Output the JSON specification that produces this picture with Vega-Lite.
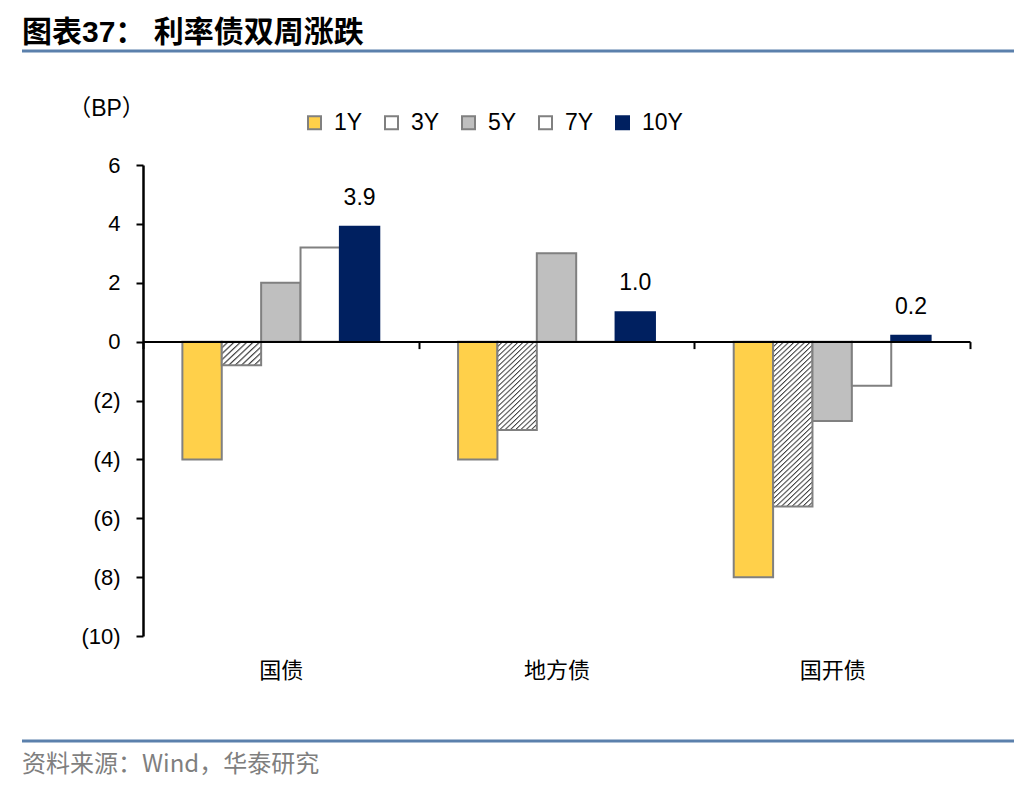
{
  "$schema": "https://vega.github.io/schema/vega-lite/v6.json",
  "width": 827,
  "height": 471,
  "autosize": {"type": "none"},
  "padding": {"left": 143, "top": 165, "right": 66, "bottom": 156},
  "background": "white",
  "config": {
    "view": {"stroke": null},
    "font": "Liberation Sans, Noto Sans CJK SC"
  },
  "resolve": {"scale": {"x": "independent", "y": "independent"}},
  "layer": [
    {
      "data": {"values": [{}]},
      "layer": [
        {
          "mark": {"type": "rule", "color": "#5B80AC", "strokeWidth": 3},
          "encoding": {
            "x": {"datum": 0, "type": "quantitative", "scale": {"domain": [0, 1], "range": [-121, 871], "nice": false, "zero": false}, "axis": null},
            "x2": {"datum": 1},
            "y": {"datum": 1, "type": "quantitative", "scale": {"domain": [0, 1], "range": [576, -114], "nice": false, "zero": false}, "axis": null}
          }
        },
        {
          "mark": {"type": "rule", "color": "#5B80AC", "strokeWidth": 3},
          "encoding": {
            "x": {"datum": 0, "type": "quantitative", "scale": {"domain": [0, 1], "range": [-121, 871], "nice": false, "zero": false}, "axis": null},
            "x2": {"datum": 1},
            "y": {"datum": 0, "type": "quantitative", "scale": {"domain": [0, 1], "range": [576, -114], "nice": false, "zero": false}, "axis": null}
          }
        },
        {
          "mark": {"type": "text", "align": "left", "baseline": "alphabetic", "dy": -9, "fontSize": 30, "fontWeight": "bold", "font": "Liberation Sans, Noto Sans CJK SC", "color": "#000000"},
          "encoding": {
            "x": {"datum": 0, "type": "quantitative", "scale": {"domain": [0, 1], "range": [-121, 871], "nice": false, "zero": false}, "axis": null},
            "y": {"datum": 1, "type": "quantitative", "scale": {"domain": [0, 1], "range": [576, -114], "nice": false, "zero": false}, "axis": null},
            "text": {"value": "图表37： 利率债双周涨跌"}
          }
        },
        {
          "mark": {"type": "text", "align": "left", "baseline": "middle", "dy": 24, "fontSize": 24, "font": "Noto Sans CJK SC", "color": "#7F7F7F"},
          "encoding": {
            "x": {"datum": 0, "type": "quantitative", "scale": {"domain": [0, 1], "range": [-121, 871], "nice": false, "zero": false}, "axis": null},
            "y": {"datum": 0, "type": "quantitative", "scale": {"domain": [0, 1], "range": [576, -114], "nice": false, "zero": false}, "axis": null},
            "text": {"value": "资料来源：Wind，华泰研究"}
          }
        }
      ]
    },
    {
      "data": {"values": [
        {"group": "国债", "tenor": "1Y", "value": -4.0},
        {"group": "国债", "tenor": "3Y", "value": -0.8},
        {"group": "国债", "tenor": "5Y", "value": 2.0},
        {"group": "国债", "tenor": "7Y", "value": 3.2},
        {"group": "国债", "tenor": "10Y", "value": 3.9},
        {"group": "地方债", "tenor": "1Y", "value": -4.0},
        {"group": "地方债", "tenor": "3Y", "value": -3.0},
        {"group": "地方债", "tenor": "5Y", "value": 3.0},
        {"group": "地方债", "tenor": "7Y", "value": 0.0},
        {"group": "地方债", "tenor": "10Y", "value": 1.0},
        {"group": "国开债", "tenor": "1Y", "value": -8.0},
        {"group": "国开债", "tenor": "3Y", "value": -5.6},
        {"group": "国开债", "tenor": "5Y", "value": -2.7},
        {"group": "国开债", "tenor": "7Y", "value": -1.5},
        {"group": "国开债", "tenor": "10Y", "value": 0.2}
      ]},
      "layer": [
        {
          "mark": {"type": "bar", "strokeWidth": 2},
          "encoding": {
            "x": {"field": "group", "type": "nominal", "scale": {"domain": ["国债", "地方债", "国开债"], "paddingInner": 0, "paddingOuter": 0},
              "axis": {"title": null, "labelAngle": 0, "offset": -294.4, "domain": true, "domainColor": "#000000", "domainWidth": 2, "ticks": true, "tickBand": "extent", "tickColor": "#000000", "tickWidth": 2, "tickSize": 7, "labelPadding": 312, "labelFontSize": 22, "labelFont": "Noto Sans CJK SC", "labelColor": "#000000", "zindex": 1}},
            "xOffset": {"field": "tenor", "type": "nominal", "scale": {"domain": ["1Y", "3Y", "5Y", "7Y", "10Y"], "paddingInner": 0, "paddingOuter": 1.2}},
            "y": {"field": "value", "type": "quantitative", "scale": {"domain": [-10, 6], "nice": false, "zero": false},
              "axis": {"title": "（BP）", "values": [-10, -8, -6, -4, -2, 0, 2, 4, 6], "labelExpr": "datum.value < 0 ? '(' + (-datum.value) + ')' : datum.value + '\u00a0'", "grid": false, "domainColor": "#000000", "domainWidth": 2.5, "tickColor": "#000000", "tickWidth": 2, "tickSize": 7, "labelFontSize": 22, "labelFont": "Liberation Sans", "labelColor": "#000000", "labelPadding": 16, "titleAngle": 0, "titleX": -37, "titleY": -57, "titleAlign": "center", "titleBaseline": "middle", "titleFontSize": 23, "titleFontWeight": "normal", "titleFont": "Liberation Sans, Noto Sans CJK SC", "titleColor": "#000000", "zindex": 1}},
            "fill": {
              "condition": [
                {"test": "datum.group === '国债' && datum.tenor === '3Y'", "value": {"gradient": "linear", "x1": 0, "y1": 0, "x2": 1.15, "y2": 0.73, "stops": [
                  {"offset": 0, "color": "#404040"}, {"offset": 0.035, "color": "#ffffff"}, {"offset": 0.08, "color": "#ffffff"},
                  {"offset": 0.1, "color": "#404040"}, {"offset": 0.135, "color": "#ffffff"}, {"offset": 0.18, "color": "#ffffff"},
                  {"offset": 0.2, "color": "#404040"}, {"offset": 0.235, "color": "#ffffff"}, {"offset": 0.28, "color": "#ffffff"},
                  {"offset": 0.3, "color": "#404040"}, {"offset": 0.335, "color": "#ffffff"}, {"offset": 0.38, "color": "#ffffff"},
                  {"offset": 0.4, "color": "#404040"}, {"offset": 0.435, "color": "#ffffff"}, {"offset": 0.48, "color": "#ffffff"},
                  {"offset": 0.5, "color": "#404040"}, {"offset": 0.535, "color": "#ffffff"}, {"offset": 0.58, "color": "#ffffff"},
                  {"offset": 0.6, "color": "#404040"}, {"offset": 0.635, "color": "#ffffff"}, {"offset": 0.68, "color": "#ffffff"},
                  {"offset": 0.7, "color": "#404040"}, {"offset": 0.735, "color": "#ffffff"}, {"offset": 0.78, "color": "#ffffff"},
                  {"offset": 0.8, "color": "#404040"}, {"offset": 0.835, "color": "#ffffff"}, {"offset": 0.88, "color": "#ffffff"},
                  {"offset": 0.9, "color": "#404040"}, {"offset": 0.935, "color": "#ffffff"}, {"offset": 0.98, "color": "#ffffff"},
                  {"offset": 1, "color": "#404040"}]}},
                {"test": "datum.group === '地方债' && datum.tenor === '3Y'", "value": {"gradient": "linear", "x1": 0, "y1": 0, "x2": 0.51, "y2": 1.2, "stops": [
                  {"offset": 0, "color": "#404040"}, {"offset": 0.014, "color": "#ffffff"}, {"offset": 0.032, "color": "#ffffff"},
                  {"offset": 0.04, "color": "#404040"}, {"offset": 0.054, "color": "#ffffff"}, {"offset": 0.072, "color": "#ffffff"},
                  {"offset": 0.08, "color": "#404040"}, {"offset": 0.094, "color": "#ffffff"}, {"offset": 0.112, "color": "#ffffff"},
                  {"offset": 0.12, "color": "#404040"}, {"offset": 0.134, "color": "#ffffff"}, {"offset": 0.152, "color": "#ffffff"},
                  {"offset": 0.16, "color": "#404040"}, {"offset": 0.174, "color": "#ffffff"}, {"offset": 0.192, "color": "#ffffff"},
                  {"offset": 0.2, "color": "#404040"}, {"offset": 0.214, "color": "#ffffff"}, {"offset": 0.232, "color": "#ffffff"},
                  {"offset": 0.24, "color": "#404040"}, {"offset": 0.254, "color": "#ffffff"}, {"offset": 0.272, "color": "#ffffff"},
                  {"offset": 0.28, "color": "#404040"}, {"offset": 0.294, "color": "#ffffff"}, {"offset": 0.312, "color": "#ffffff"},
                  {"offset": 0.32, "color": "#404040"}, {"offset": 0.334, "color": "#ffffff"}, {"offset": 0.352, "color": "#ffffff"},
                  {"offset": 0.36, "color": "#404040"}, {"offset": 0.374, "color": "#ffffff"}, {"offset": 0.392, "color": "#ffffff"},
                  {"offset": 0.4, "color": "#404040"}, {"offset": 0.414, "color": "#ffffff"}, {"offset": 0.432, "color": "#ffffff"},
                  {"offset": 0.44, "color": "#404040"}, {"offset": 0.454, "color": "#ffffff"}, {"offset": 0.472, "color": "#ffffff"},
                  {"offset": 0.48, "color": "#404040"}, {"offset": 0.494, "color": "#ffffff"}, {"offset": 0.512, "color": "#ffffff"},
                  {"offset": 0.52, "color": "#404040"}, {"offset": 0.534, "color": "#ffffff"}, {"offset": 0.552, "color": "#ffffff"},
                  {"offset": 0.56, "color": "#404040"}, {"offset": 0.574, "color": "#ffffff"}, {"offset": 0.592, "color": "#ffffff"},
                  {"offset": 0.6, "color": "#404040"}, {"offset": 0.614, "color": "#ffffff"}, {"offset": 0.632, "color": "#ffffff"},
                  {"offset": 0.64, "color": "#404040"}, {"offset": 0.654, "color": "#ffffff"}, {"offset": 0.672, "color": "#ffffff"},
                  {"offset": 0.68, "color": "#404040"}, {"offset": 0.694, "color": "#ffffff"}, {"offset": 0.712, "color": "#ffffff"},
                  {"offset": 0.72, "color": "#404040"}, {"offset": 0.734, "color": "#ffffff"}, {"offset": 0.752, "color": "#ffffff"},
                  {"offset": 0.76, "color": "#404040"}, {"offset": 0.774, "color": "#ffffff"}, {"offset": 0.792, "color": "#ffffff"},
                  {"offset": 0.8, "color": "#404040"}, {"offset": 0.814, "color": "#ffffff"}, {"offset": 0.832, "color": "#ffffff"},
                  {"offset": 0.84, "color": "#404040"}, {"offset": 0.854, "color": "#ffffff"}, {"offset": 0.872, "color": "#ffffff"},
                  {"offset": 0.88, "color": "#404040"}, {"offset": 0.894, "color": "#ffffff"}, {"offset": 0.912, "color": "#ffffff"},
                  {"offset": 0.92, "color": "#404040"}, {"offset": 0.934, "color": "#ffffff"}, {"offset": 0.952, "color": "#ffffff"},
                  {"offset": 0.96, "color": "#404040"}, {"offset": 0.974, "color": "#ffffff"}, {"offset": 0.992, "color": "#ffffff"},
                  {"offset": 1, "color": "#404040"}]}},
                {"test": "datum.group === '国开债' && datum.tenor === '3Y'", "value": {"gradient": "linear", "x1": 0, "y1": 0, "x2": 0.265, "y2": 1.17, "stops": [
                  {"offset": 0, "color": "#404040"}, {"offset": 0.009, "color": "#ffffff"}, {"offset": 0.02, "color": "#ffffff"},
                  {"offset": 0.025, "color": "#404040"}, {"offset": 0.034, "color": "#ffffff"}, {"offset": 0.045, "color": "#ffffff"},
                  {"offset": 0.05, "color": "#404040"}, {"offset": 0.059, "color": "#ffffff"}, {"offset": 0.07, "color": "#ffffff"},
                  {"offset": 0.075, "color": "#404040"}, {"offset": 0.084, "color": "#ffffff"}, {"offset": 0.095, "color": "#ffffff"},
                  {"offset": 0.1, "color": "#404040"}, {"offset": 0.109, "color": "#ffffff"}, {"offset": 0.12, "color": "#ffffff"},
                  {"offset": 0.125, "color": "#404040"}, {"offset": 0.134, "color": "#ffffff"}, {"offset": 0.145, "color": "#ffffff"},
                  {"offset": 0.15, "color": "#404040"}, {"offset": 0.159, "color": "#ffffff"}, {"offset": 0.17, "color": "#ffffff"},
                  {"offset": 0.175, "color": "#404040"}, {"offset": 0.184, "color": "#ffffff"}, {"offset": 0.195, "color": "#ffffff"},
                  {"offset": 0.2, "color": "#404040"}, {"offset": 0.209, "color": "#ffffff"}, {"offset": 0.22, "color": "#ffffff"},
                  {"offset": 0.225, "color": "#404040"}, {"offset": 0.234, "color": "#ffffff"}, {"offset": 0.245, "color": "#ffffff"},
                  {"offset": 0.25, "color": "#404040"}, {"offset": 0.259, "color": "#ffffff"}, {"offset": 0.27, "color": "#ffffff"},
                  {"offset": 0.275, "color": "#404040"}, {"offset": 0.284, "color": "#ffffff"}, {"offset": 0.295, "color": "#ffffff"},
                  {"offset": 0.3, "color": "#404040"}, {"offset": 0.309, "color": "#ffffff"}, {"offset": 0.32, "color": "#ffffff"},
                  {"offset": 0.325, "color": "#404040"}, {"offset": 0.334, "color": "#ffffff"}, {"offset": 0.345, "color": "#ffffff"},
                  {"offset": 0.35, "color": "#404040"}, {"offset": 0.359, "color": "#ffffff"}, {"offset": 0.37, "color": "#ffffff"},
                  {"offset": 0.375, "color": "#404040"}, {"offset": 0.384, "color": "#ffffff"}, {"offset": 0.395, "color": "#ffffff"},
                  {"offset": 0.4, "color": "#404040"}, {"offset": 0.409, "color": "#ffffff"}, {"offset": 0.42, "color": "#ffffff"},
                  {"offset": 0.425, "color": "#404040"}, {"offset": 0.434, "color": "#ffffff"}, {"offset": 0.445, "color": "#ffffff"},
                  {"offset": 0.45, "color": "#404040"}, {"offset": 0.459, "color": "#ffffff"}, {"offset": 0.47, "color": "#ffffff"},
                  {"offset": 0.475, "color": "#404040"}, {"offset": 0.484, "color": "#ffffff"}, {"offset": 0.495, "color": "#ffffff"},
                  {"offset": 0.5, "color": "#404040"}, {"offset": 0.509, "color": "#ffffff"}, {"offset": 0.52, "color": "#ffffff"},
                  {"offset": 0.525, "color": "#404040"}, {"offset": 0.534, "color": "#ffffff"}, {"offset": 0.545, "color": "#ffffff"},
                  {"offset": 0.55, "color": "#404040"}, {"offset": 0.559, "color": "#ffffff"}, {"offset": 0.57, "color": "#ffffff"},
                  {"offset": 0.575, "color": "#404040"}, {"offset": 0.584, "color": "#ffffff"}, {"offset": 0.595, "color": "#ffffff"},
                  {"offset": 0.6, "color": "#404040"}, {"offset": 0.609, "color": "#ffffff"}, {"offset": 0.62, "color": "#ffffff"},
                  {"offset": 0.625, "color": "#404040"}, {"offset": 0.634, "color": "#ffffff"}, {"offset": 0.645, "color": "#ffffff"},
                  {"offset": 0.65, "color": "#404040"}, {"offset": 0.659, "color": "#ffffff"}, {"offset": 0.67, "color": "#ffffff"},
                  {"offset": 0.675, "color": "#404040"}, {"offset": 0.684, "color": "#ffffff"}, {"offset": 0.695, "color": "#ffffff"},
                  {"offset": 0.7, "color": "#404040"}, {"offset": 0.709, "color": "#ffffff"}, {"offset": 0.72, "color": "#ffffff"},
                  {"offset": 0.725, "color": "#404040"}, {"offset": 0.734, "color": "#ffffff"}, {"offset": 0.745, "color": "#ffffff"},
                  {"offset": 0.75, "color": "#404040"}, {"offset": 0.759, "color": "#ffffff"}, {"offset": 0.77, "color": "#ffffff"},
                  {"offset": 0.775, "color": "#404040"}, {"offset": 0.784, "color": "#ffffff"}, {"offset": 0.795, "color": "#ffffff"},
                  {"offset": 0.8, "color": "#404040"}, {"offset": 0.809, "color": "#ffffff"}, {"offset": 0.82, "color": "#ffffff"},
                  {"offset": 0.825, "color": "#404040"}, {"offset": 0.834, "color": "#ffffff"}, {"offset": 0.845, "color": "#ffffff"},
                  {"offset": 0.85, "color": "#404040"}, {"offset": 0.859, "color": "#ffffff"}, {"offset": 0.87, "color": "#ffffff"},
                  {"offset": 0.875, "color": "#404040"}, {"offset": 0.884, "color": "#ffffff"}, {"offset": 0.895, "color": "#ffffff"},
                  {"offset": 0.9, "color": "#404040"}, {"offset": 0.909, "color": "#ffffff"}, {"offset": 0.92, "color": "#ffffff"},
                  {"offset": 0.925, "color": "#404040"}, {"offset": 0.934, "color": "#ffffff"}, {"offset": 0.945, "color": "#ffffff"},
                  {"offset": 0.95, "color": "#404040"}, {"offset": 0.959, "color": "#ffffff"}, {"offset": 0.97, "color": "#ffffff"},
                  {"offset": 0.975, "color": "#404040"}, {"offset": 0.984, "color": "#ffffff"}, {"offset": 0.995, "color": "#ffffff"},
                  {"offset": 1, "color": "#404040"}]}}
              ],
              "field": "tenor",
              "type": "nominal",
              "scale": {"domain": ["1Y", "3Y", "5Y", "7Y", "10Y"], "range": ["#FFD04A", "#FFFFFF", "#BFBFBF", "#FFFFFF", "#002060"]},
              "legend": {
                "title": null, "orient": "none", "legendX": 160, "legendY": -54, "direction": "horizontal",
                "symbolType": "square", "symbolSize": 169, "symbolStrokeWidth": 2,
                "labelFontSize": 23, "labelFont": "Liberation Sans", "labelColor": "#000000",
                "columnPadding": 17, "labelOffset": 8, "padding": 0
              }
            },
            "stroke": {"field": "tenor", "type": "nominal", "scale": {"domain": ["1Y", "3Y", "5Y", "7Y", "10Y"], "range": ["#808080", "#808080", "#808080", "#808080", "#002060"]}, "legend": null}
          }
        },
        {
          "transform": [{"filter": "datum.tenor === '10Y'"}],
          "mark": {"type": "text", "fontSize": 23, "dy": -22, "baseline": "alphabetic", "font": "Liberation Sans", "color": "#000000"},
          "encoding": {
            "x": {"field": "group", "type": "nominal", "scale": {"domain": ["国债", "地方债", "国开债"], "paddingInner": 0, "paddingOuter": 0}},
            "xOffset": {"field": "tenor", "type": "nominal", "scale": {"domain": ["1Y", "3Y", "5Y", "7Y", "10Y"], "paddingInner": 0, "paddingOuter": 1.2}},
            "y": {"field": "value", "type": "quantitative", "scale": {"domain": [-10, 6], "nice": false, "zero": false}},
            "text": {"field": "value", "type": "quantitative", "format": ".1f"}
          }
        }
      ]
    }
  ]
}
